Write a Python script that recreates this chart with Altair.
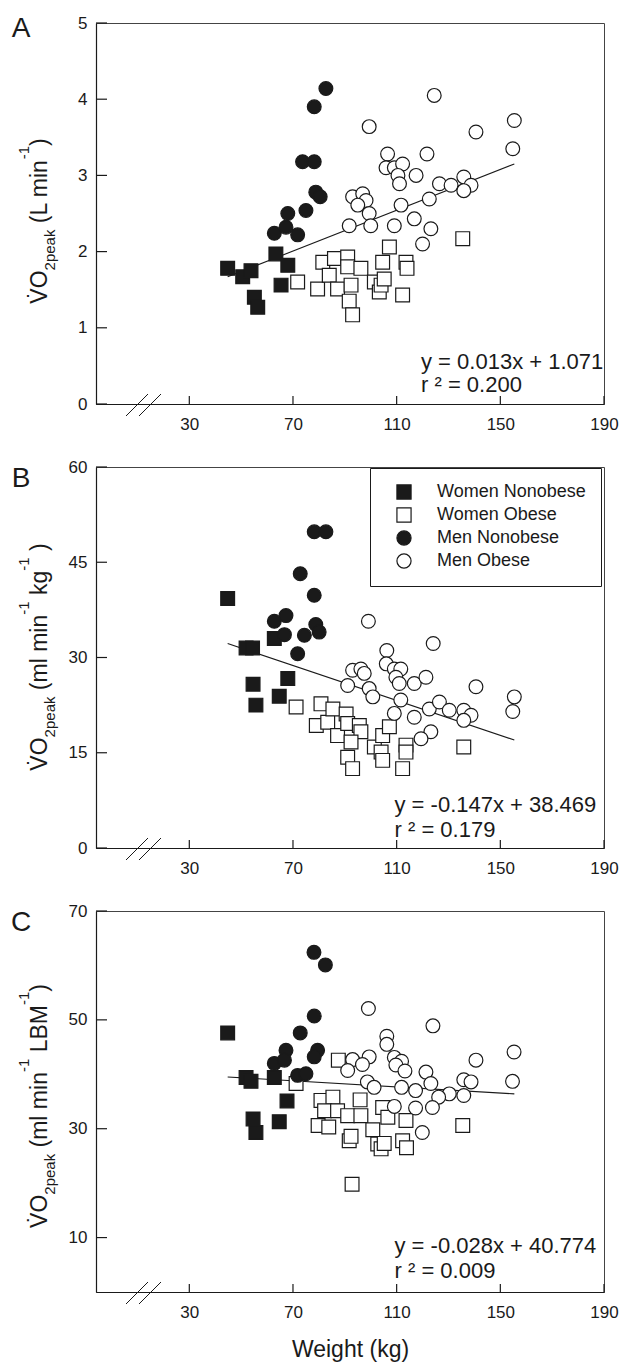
import altair as alt
import pandas as pd

# ---------------- data ----------------
GROUPS = ["Women Nonobese", "Women Obese", "Men Nonobese", "Men Obese"]
DRAW_ORDER = ["Women Obese", "Women Nonobese", "Men Obese", "Men Nonobese"]
SHAPES = ["square", "square", "circle", "circle"]
FILLS = ["#1a1a1a", "#ffffff", "#1a1a1a", "#ffffff"]

X_TICKS = [30, 70, 110, 150, 190]

# Panel A : VO2peak (L/min)
A_WN_x = [44.8, 50.6, 53.8, 55.1, 56.4, 63.4, 68.0, 65.4]
A_WN_y = [1.78, 1.67, 1.75, 1.40, 1.27, 1.97, 1.82, 1.56]
A_WO_x = [71.8, 81.5, 79.5, 84.0, 86.0, 87.2, 91.1, 91.1, 91.7, 92.4, 93.0, 96.2,
          101.4, 103.3, 104.0, 104.6, 107.2, 105.2, 113.6, 114.0, 112.3, 135.5]
A_WO_y = [1.60, 1.86, 1.51, 1.69, 1.91, 1.51, 1.93, 1.80, 1.35, 1.56, 1.17, 1.78,
          1.60, 1.47, 1.56, 1.86, 2.06, 1.64, 1.86, 1.78, 1.43, 2.17]
A_MN_x = [82.7, 78.2, 73.7, 78.2, 78.8, 80.5, 75.0, 68.0, 62.8, 67.3, 71.8]
A_MN_y = [4.14, 3.90, 3.18, 3.18, 2.78, 2.72, 2.54, 2.50, 2.24, 2.32, 2.22]
A_MO_x = [124.5, 99.4, 155.4, 140.6, 154.8, 106.5, 121.7, 105.9, 109.1, 112.3, 110.5,
          111.1, 117.5, 126.5, 131.0, 135.9, 138.7, 135.9, 122.6, 111.7, 93.0, 96.9,
          98.2, 95.0, 99.4, 91.7, 100.0, 109.1, 116.8, 123.2, 120.0]
A_MO_y = [4.05, 3.64, 3.72, 3.57, 3.35, 3.28, 3.28, 3.10, 3.10, 3.15, 3.00,
          2.89, 3.00, 2.89, 2.87, 2.98, 2.87, 2.80, 2.69, 2.61, 2.72, 2.76,
          2.67, 2.61, 2.50, 2.34, 2.34, 2.34, 2.43, 2.30, 2.10]
A_LINE_x = [44.8, 155.4]
A_LINE_y = [1.67, 3.15]

# Panel B : VO2peak (ml/min/kg)
B_WN_x = [44.8, 51.9, 54.4, 62.8, 54.6, 68.0, 64.7, 55.7]
B_WN_y = [39.3, 31.5, 31.5, 33.0, 25.8, 26.7, 23.9, 22.5]
B_WO_x = [71.2, 80.8, 79.0, 83.4, 85.4, 87.2, 90.5, 91.1, 95.6, 96.2, 92.4, 91.1,
          93.0, 101.4, 104.0, 104.6, 107.2, 104.6, 113.6, 113.6, 112.3, 135.9]
B_WO_y = [22.2, 22.7, 19.3, 19.8, 21.9, 17.7, 21.1, 19.6, 19.3, 18.3, 16.7, 14.3,
          12.5, 15.9, 15.1, 17.7, 19.1, 13.8, 16.2, 15.1, 12.5, 15.9]
B_MN_x = [78.2, 82.7, 72.8, 78.2, 62.8, 67.3, 66.7, 74.4, 78.8, 80.1, 71.8]
B_MN_y = [49.8, 49.8, 43.2, 39.8, 35.7, 36.6, 33.6, 33.5, 35.2, 34.0, 30.6]
B_MO_x = [99.1, 124.1, 106.2, 106.0, 109.1, 111.6, 109.7, 111.0, 116.8, 121.3, 140.6,
          155.4, 154.8, 93.0, 96.2, 97.5, 91.1, 99.4, 100.8, 111.6, 109.1, 116.8,
          122.6, 126.5, 130.3, 135.9, 138.7, 135.9, 123.2, 119.4]
B_MO_y = [35.7, 32.2, 31.1, 29.0, 28.2, 28.2, 26.9, 25.9, 25.9, 26.9, 25.4,
          23.8, 21.5, 28.0, 28.2, 27.5, 25.6, 25.1, 23.8, 23.3, 21.2, 20.6,
          21.9, 23.0, 21.7, 21.7, 20.9, 20.1, 18.3, 17.2]
B_LINE_x = [44.8, 155.4]
B_LINE_y = [32.2, 17.0]

# Panel C : VO2peak (ml/min/kg LBM)
C_WN_x = [44.8, 51.9, 53.8, 62.8, 67.7, 54.6, 64.7, 55.7]
C_WN_y = [47.6, 39.4, 38.7, 39.4, 35.1, 31.8, 31.3, 29.3]
C_WO_x = [87.5, 71.2, 80.8, 85.4, 82.2, 87.2, 95.9, 91.1, 96.2, 104.6, 106.6, 113.6,
          79.7, 83.8, 100.8, 91.7, 92.4, 102.7, 104.0, 105.2, 112.3, 113.8, 135.5, 92.8]
C_WO_y = [42.6, 38.3, 35.2, 35.8, 33.3, 33.3, 35.3, 32.4, 32.4, 33.9, 32.1, 31.5,
          30.6, 30.3, 29.8, 27.8, 28.6, 27.2, 26.3, 27.3, 27.8, 26.5, 30.6, 19.8]
C_MN_x = [78.1, 82.5, 78.2, 72.8, 67.3, 79.5, 78.2, 62.8, 66.7, 71.8, 75.0]
C_MN_y = [62.4, 60.1, 50.7, 47.6, 44.4, 44.4, 43.2, 42.0, 42.6, 39.8, 40.1]
C_MO_x = [99.1, 124.0, 106.2, 106.2, 155.3, 140.6, 93.0, 99.4, 96.8, 91.1, 109.1,
          111.9, 109.7, 113.2, 121.3, 98.7, 101.3, 111.9, 117.3, 123.2, 135.9, 138.7,
          154.7, 130.3, 126.2, 135.9, 109.1, 117.3, 123.8, 119.9]
C_MO_y = [52.1, 48.9, 47.0, 45.5, 44.1, 42.6, 42.7, 43.2, 41.8, 40.7, 43.1,
          42.4, 41.7, 40.6, 40.4, 38.6, 37.6, 37.6, 37.0, 38.3, 39.0, 38.6,
          38.7, 36.4, 35.8, 36.1, 34.1, 33.8, 33.9, 29.3]
C_LINE_x = [44.8, 155.4]
C_LINE_y = [39.5, 36.4]

# y-axis titles as runs: (text, role) where role is main / sub / sup
TITLE_A = [("V\u0307O", "main"), ("2peak", "sub"), (" (L min", "main"), ("-1", "sup"), (")", "main")]
TITLE_B = [("V\u0307O", "main"), ("2peak", "sub"), (" (ml min", "main"), ("-1", "sup"),
           (" kg", "main"), ("-1", "sup"), (" )", "main")]
TITLE_C = [("V\u0307O", "main"), ("2peak", "sub"), (" (ml min", "main"), ("-1", "sup"),
           (" LBM", "main"), ("-1", "sup"), (")", "main")]

# ---------------- styling ----------------
W, H = 508, 381
FONT = "Liberation Sans"
INK = "#1a1a1a"
MAIN_FS, SMALL_FS = 23, 15
ROLE = {"main": (MAIN_FS, 0), "sub": (SMALL_FS, 8), "sup": (SMALL_FS, -18)}
TITLE_BASE_X = -49

# Arial / Liberation Sans advance widths (per em)
ADV = {" ": .278, "(": .333, ")": .333, "L": .556, "m": .833, "i": .222, "n": .556,
       "l": .222, "k": .5, "g": .556, "B": .667, "M": .833, "V": .667, "O": .778,
       "2": .556, "p": .556, "e": .556, "a": .556, "-": .333, "1": .556, "\u0307": 0.0}


def run_width(text, fs):
    return sum(ADV.get(ch, .556) for ch in text) * fs


def title_layers(runs, center_y):
    total = sum(run_width(t, ROLE[r][0]) for t, r in runs)
    pos = center_y + total / 2.0
    layers = []
    for t, r in runs:
        fs, shift = ROLE[r]
        lead = len(t) - len(t.lstrip(" "))
        start = pos - run_width(t[:lead], fs)
        layers.append(
            alt.Chart(pd.DataFrame({"t": [t.strip()]})).mark_text(
                fontSize=fs, font=FONT, angle=270, align="left", baseline="alphabetic",
                color=INK).encode(text="t:N", x=alt.value(TITLE_BASE_X + shift), y=alt.value(start)))
        pos -= run_width(t, fs)
    return layers


def panel(groups, line_x, line_y, ydomain, yticks, title_runs, title_c, letter,
          letter_y, eq1, eq2, eq_x, eq_y1, eq_y2, legend, x_title):
    rows = []
    for g in DRAW_ORDER:
        xs, ys = groups[g]
        rows += [{"weight": a, "vo2": b, "group": g} for a, b in zip(xs, ys)]
    df = pd.DataFrame(rows)

    xaxis_kw = dict(values=X_TICKS, ticks=False, tickSize=0, labelPadding=12,
                    labelFlush=False, grid=False, domainColor=INK, domainWidth=1.2)
    if x_title:
        xaxis_kw.update(titleY=64, titleBaseline="alphabetic", titleFontSize=23)
    x_enc = alt.X("weight:Q", title=x_title if x_title else None,
                  scale=alt.Scale(domain=[-6, 190], nice=False, zero=False),
                  axis=alt.Axis(**xaxis_kw))
    y_enc = alt.Y("vo2:Q", title=None,
                  scale=alt.Scale(domain=ydomain, nice=False, zero=False),
                  axis=alt.Axis(values=yticks, ticks=False, tickSize=0, labelPadding=9,
                                labelFlush=False, grid=False, domainColor=INK,
                                domainWidth=1.2))

    pts = alt.Chart(df).mark_point(filled=True, size=190, strokeWidth=1.2, opacity=1).encode(
        x=x_enc, y=y_enc,
        shape=alt.Shape("group:N", scale=alt.Scale(domain=GROUPS, range=SHAPES), legend=legend),
        fill=alt.Fill("group:N", scale=alt.Scale(domain=GROUPS, range=FILLS), legend=legend),
        stroke=alt.Stroke("group:N", scale=alt.Scale(domain=GROUPS, range=[INK] * 4), legend=legend),
    )

    line = alt.Chart(pd.DataFrame({"weight": line_x, "vo2": line_y})).mark_line(
        color=INK, strokeWidth=1.1).encode(x=x_enc, y=y_enc)

    yt = alt.Chart(pd.DataFrame({"vo2": yticks})).mark_rule(color=INK, strokeWidth=1.2).encode(
        y=y_enc, x=alt.value(0), x2=alt.value(11))
    xt = alt.Chart(pd.DataFrame({"weight": X_TICKS})).mark_rule(color=INK, strokeWidth=1.2).encode(
        x=x_enc, y=alt.value(H), y2=alt.value(H - 8))

    one = pd.DataFrame({"k": [0]})
    brk1 = alt.Chart(one).mark_rule(color=INK, strokeWidth=1).encode(
        x=alt.value(30), x2=alt.value(52), y=alt.value(H + 12), y2=alt.value(H - 10))
    brk2 = alt.Chart(one).mark_rule(color=INK, strokeWidth=1).encode(
        x=alt.value(43), x2=alt.value(65), y=alt.value(H + 12), y2=alt.value(H - 10))

    let = alt.Chart(pd.DataFrame({"t": [letter]})).mark_text(
        fontSize=28, font=FONT, align="center", baseline="alphabetic", color=INK).encode(
        text="t:N", x=alt.value(-75), y=alt.value(letter_y))

    eqa = alt.Chart(pd.DataFrame({"t": [eq1]})).mark_text(
        fontSize=22, font=FONT, align="left", baseline="alphabetic", color=INK).encode(
        text="t:N", x=alt.value(eq_x), y=alt.value(eq_y1))
    eqb = alt.Chart(pd.DataFrame({"t": [eq2]})).mark_text(
        fontSize=22, font=FONT, align="left", baseline="alphabetic", color=INK).encode(
        text="t:N", x=alt.value(eq_x), y=alt.value(eq_y2))

    layers = [xt, yt, line, pts, brk1, brk2, let, eqa, eqb] + title_layers(title_runs, title_c)
    return alt.layer(*layers).properties(width=W, height=H)


legend_b = alt.Legend(title=None, orient="none", legendX=274, legendY=1, strokeColor=INK,
                      fillColor="white", padding=15, symbolOffset=10, labelOffset=24,
                      labelFontSize=18, labelFont=FONT, labelColor=INK, symbolSize=200,
                      symbolStrokeWidth=1.2, rowPadding=3)

pA = panel({"Women Nonobese": (A_WN_x, A_WN_y), "Women Obese": (A_WO_x, A_WO_y),
            "Men Nonobese": (A_MN_x, A_MN_y), "Men Obese": (A_MO_x, A_MO_y)},
           A_LINE_x, A_LINE_y, [0, 5], [0, 1, 2, 3, 4, 5], TITLE_A, 198, "A", 14,
           "y = 0.013x + 1.071", "r \u00b2 = 0.200", 325, 346, 369, None, None)

pB = panel({"Women Nonobese": (B_WN_x, B_WN_y), "Women Obese": (B_WO_x, B_WO_y),
            "Men Nonobese": (B_MN_x, B_MN_y), "Men Obese": (B_MO_x, B_MO_y)},
           B_LINE_x, B_LINE_y, [0, 60], [0, 15, 30, 45, 60], TITLE_B, 190, "B", 20,
           "y = -0.147x + 38.469", "r \u00b2 = 0.179", 298.5, 345, 370, legend_b, None)

pC = panel({"Women Nonobese": (C_WN_x, C_WN_y), "Women Obese": (C_WO_x, C_WO_y),
            "Men Nonobese": (C_MN_x, C_MN_y), "Men Obese": (C_MO_x, C_MO_y)},
           C_LINE_x, C_LINE_y, [0, 70], [10, 30, 50, 70], TITLE_C, 195, "C", 20,
           "y = -0.028x + 40.774", "r \u00b2 = 0.009", 298.5, 342, 367, None, "Weight (kg)")

chart = alt.vconcat(pA, pB, pC, spacing=63, bounds="flush").resolve_scale(
    shape="independent", fill="independent", stroke="independent"
).configure_view(stroke="#444", strokeWidth=1).configure_axis(
    labelFont=FONT, labelFontSize=17, labelColor=INK, titleFont=FONT,
    titleFontWeight="normal", titleColor=INK
).properties(padding={"left": 10, "top": 13, "right": 0, "bottom": 0})

chart.save("out.html", embed_options={"renderer": "svg", "actions": False})
